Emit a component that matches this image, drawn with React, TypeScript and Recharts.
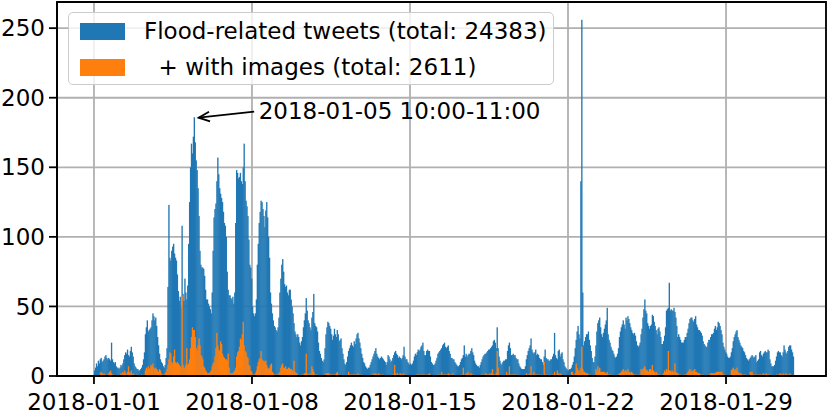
import {
  BarChart,
  Bar,
  XAxis,
  YAxis,
  CartesianGrid,
  ReferenceArea,
  ReferenceDot,
} from "recharts";

const FONT = '"DejaVu Sans", Verdana, sans-serif';
const FONT_SIZE = 23;

// x axis runs in hours since 2018-01-01 00:00
const tickHours = [0, 168, 336, 504, 672];
const tickLabels = ["2018-01-01", "2018-01-08", "2018-01-15", "2018-01-22", "2018-01-29"];
const yTicks = [0, 50, 100, 150, 200, 250];

// flood-related tweets per hour, one row per day
const tweetsJan1to7 = [
  [4, 6, 9, 7, 11, 9, 12, 13, 10, 11, 12, 14, 15, 13, 12, 13, 12, 11, 24, 12, 10, 9, 10, 7],
  [6, 6, 5, 6, 8, 7, 9, 12, 15, 17, 16, 19, 15, 14, 18, 21, 17, 14, 9, 7, 6, 5, 5, 4],
  [4, 5, 6, 8, 12, 17, 30, 35, 40, 32, 33, 34, 35, 40, 45, 43, 40, 42, 36, 28, 22, 16, 12, 10],
  [9, 7, 6, 8, 13, 20, 64, 123, 85, 83, 90, 93, 95, 88, 85, 83, 73, 61, 54, 57, 49, 108, 59, 54],
  [70, 60, 55, 65, 95, 125, 150, 167, 160, 172, 186, 168, 155, 148, 135, 115, 90, 80, 78, 78, 77, 72, 62, 55],
  [55, 52, 50, 48, 45, 60, 90, 114, 120, 124, 140, 157, 145, 135, 131, 128, 125, 118, 110, 108, 100, 75, 62, 58],
  [58, 56, 55, 57, 52, 60, 110, 148, 146, 142, 143, 146, 140, 138, 150, 167, 140, 126, 122, 115, 98, 80, 78, 70],
];
const tweetsJan8to14 = [
  [50, 45, 43, 45, 55, 80, 95, 110, 118, 126, 125, 120, 115, 107, 119, 125, 114, 100, 85, 60, 52, 45, 40, 36],
  [35, 33, 32, 35, 42, 60, 70, 80, 84, 75, 66, 64, 65, 60, 58, 62, 62, 55, 50, 45, 38, 32, 30, 28],
  [30, 28, 24, 22, 25, 28, 35, 40, 45, 56, 47, 40, 38, 35, 33, 42, 46, 59, 38, 36, 35, 32, 24, 18],
  [16, 13, 11, 10, 12, 20, 30, 35, 39, 38, 36, 34, 30, 26, 29, 34, 30, 28, 33, 30, 25, 26, 27, 20],
  [16, 12, 9, 8, 10, 14, 18, 20, 22, 24, 22, 21, 25, 23, 27, 30, 31, 27, 24, 20, 16, 13, 10, 9],
  [7, 6, 5, 6, 6, 8, 10, 12, 14, 16, 18, 20, 16, 14, 13, 12, 13, 14, 13, 12, 11, 10, 8, 10],
  [15, 14, 12, 10, 11, 13, 15, 17, 18, 16, 15, 13, 14, 13, 12, 13, 15, 21, 14, 12, 12, 10, 9, 8],
];
const tweetsJan15to21 = [
  [9, 8, 9, 11, 14, 16, 15, 17, 19, 18, 19, 21, 22, 24, 18, 15, 15, 18, 19, 18, 18, 14, 10, 9],
  [8, 8, 9, 11, 13, 16, 17, 18, 19, 20, 22, 23, 24, 21, 20, 21, 22, 18, 16, 13, 13, 12, 12, 10],
  [9, 8, 7, 7, 8, 10, 12, 13, 15, 22, 14, 16, 14, 15, 16, 16, 18, 20, 17, 15, 11, 9, 8, 7],
  [7, 6, 8, 10, 12, 14, 15, 16, 16, 17, 18, 19, 19, 20, 21, 22, 25, 26, 24, 20, 35, 20, 14, 11],
  [9, 8, 10, 11, 11, 12, 12, 18, 22, 24, 20, 15, 15, 16, 15, 15, 13, 12, 12, 9, 7, 6, 5, 5],
  [5, 5, 7, 12, 15, 18, 20, 22, 27, 19, 17, 16, 17, 19, 15, 16, 15, 13, 12, 12, 10, 8, 14, 19],
  [13, 12, 12, 11, 11, 12, 12, 14, 16, 31, 15, 13, 12, 18, 19, 14, 16, 17, 12, 10, 7, 6, 5, 4],
];
const tweetsJan22to28 = [
  [4, 5, 5, 6, 8, 10, 14, 20, 26, 32, 36, 30, 27, 140, 256, 60, 22, 25, 28, 30, 30, 32, 26, 22],
  [18, 13, 10, 10, 14, 22, 32, 38, 40, 42, 35, 30, 28, 31, 34, 37, 40, 49, 30, 26, 24, 21, 19, 18],
  [16, 14, 13, 14, 16, 20, 28, 32, 35, 37, 40, 37, 34, 42, 40, 43, 41, 38, 35, 33, 31, 30, 31, 29],
  [25, 22, 21, 22, 24, 30, 34, 42, 48, 55, 47, 45, 38, 36, 34, 36, 37, 44, 43, 39, 36, 33, 30, 34],
  [35, 32, 28, 23, 23, 25, 29, 35, 47, 48, 49, 67, 47, 48, 47, 47, 49, 46, 42, 36, 28, 30, 28, 26],
  [24, 24, 24, 26, 28, 28, 31, 34, 38, 41, 42, 42, 40, 39, 41, 43, 37, 35, 33, 33, 32, 31, 29, 25],
  [23, 22, 21, 21, 24, 26, 26, 28, 30, 30, 31, 34, 36, 33, 35, 39, 38, 36, 33, 30, 24, 21, 19, 17],
];
const tweetsJan29to31 = [
  [16, 14, 13, 13, 14, 17, 20, 25, 28, 30, 32, 33, 28, 26, 24, 22, 21, 20, 18, 17, 15, 13, 12, 11],
  [12, 13, 14, 15, 14, 13, 14, 15, 10, 11, 12, 17, 18, 15, 14, 16, 17, 18, 17, 17, 19, 18, 12, 9],
  [7, 7, 7, 8, 11, 14, 17, 18, 17, 17, 15, 14, 17, 22, 19, 17, 16, 18, 21, 22, 22, 19, 17, 14],
];

// of which with images
const imagesJan1to7 = [
  [0, 0, 0, 0, 0, 0, 2, 3, 2, 1, 2, 1, 1, 0, 1, 2, 3, 4, 2, 1, 0, 1, 0, 0],
  [0, 0, 0, 0, 2, 1, 3, 2, 4, 2, 1, 3, 7, 3, 2, 4, 1, 2, 1, 0, 0, 1, 0, 0],
  [0, 0, 1, 0, 1, 1, 4, 6, 5, 7, 5, 6, 8, 7, 9, 6, 5, 6, 5, 4, 3, 5, 4, 2],
  [1, 1, 1, 2, 3, 5, 8, 12, 17, 16, 10, 9, 14, 19, 10, 9, 10, 9, 8, 7, 6, 58, 8, 6],
  [6, 8, 20, 8, 9, 12, 20, 28, 35, 33, 33, 28, 20, 18, 22, 27, 22, 15, 14, 12, 7, 6, 4, 3],
  [2, 2, 2, 3, 4, 7, 9, 10, 14, 20, 31, 22, 19, 18, 25, 23, 16, 14, 13, 12, 12, 11, 16, 6],
  [2, 2, 2, 2, 3, 4, 6, 14, 17, 18, 21, 27, 26, 30, 39, 22, 18, 17, 14, 13, 8, 7, 4, 3],
];
const imagesJan8to14 = [
  [1, 1, 1, 2, 4, 7, 10, 12, 13, 18, 12, 11, 11, 10, 11, 8, 6, 5, 6, 8, 9, 3, 2, 1],
  [1, 1, 1, 1, 2, 3, 6, 8, 9, 6, 6, 7, 5, 5, 6, 6, 5, 5, 4, 4, 11, 3, 2, 2],
  [1, 0, 0, 0, 1, 1, 1, 2, 2, 16, 2, 1, 1, 2, 1, 7, 5, 3, 1, 1, 1, 1, 0, 0],
  [0, 0, 0, 0, 1, 1, 2, 2, 2, 2, 1, 1, 1, 1, 1, 1, 1, 2, 3, 1, 1, 1, 0, 0],
  [0, 0, 0, 0, 0, 1, 3, 1, 1, 1, 1, 1, 1, 1, 1, 1, 2, 1, 1, 0, 1, 0, 0, 0],
  [0, 0, 0, 0, 0, 0, 1, 1, 1, 2, 1, 2, 1, 1, 2, 1, 1, 0, 1, 1, 0, 0, 0, 0],
  [0, 0, 0, 0, 0, 1, 1, 8, 2, 1, 2, 1, 1, 2, 1, 1, 2, 1, 1, 1, 0, 0, 0, 0],
];
const imagesJan15to21 = [
  [0, 0, 0, 0, 0, 0, 1, 1, 1, 1, 1, 0, 1, 1, 1, 1, 0, 1, 1, 1, 2, 1, 0, 0],
  [0, 0, 0, 0, 0, 1, 1, 1, 1, 3, 1, 1, 1, 1, 1, 1, 2, 1, 1, 1, 1, 2, 0, 0],
  [0, 0, 0, 0, 0, 0, 1, 1, 6, 1, 1, 2, 1, 3, 1, 1, 2, 1, 1, 1, 0, 0, 0, 0],
  [0, 0, 0, 1, 1, 1, 1, 1, 2, 1, 1, 1, 2, 1, 2, 5, 1, 1, 1, 2, 18, 6, 1, 0],
  [0, 0, 0, 0, 0, 1, 3, 1, 1, 7, 1, 1, 1, 1, 1, 1, 1, 0, 1, 0, 0, 0, 0, 0],
  [0, 0, 0, 2, 1, 1, 1, 2, 7, 1, 1, 3, 1, 1, 1, 1, 1, 1, 0, 1, 0, 0, 10, 1],
  [1, 1, 0, 0, 1, 0, 1, 1, 1, 3, 1, 1, 4, 2, 1, 2, 1, 1, 0, 0, 0, 0, 0, 0],
];
const imagesJan22to28 = [
  [0, 0, 0, 3, 3, 1, 1, 2, 9, 6, 4, 4, 2, 6, 21, 5, 3, 3, 2, 2, 2, 1, 1, 1],
  [0, 0, 0, 0, 1, 5, 3, 7, 4, 6, 3, 3, 3, 3, 3, 2, 2, 3, 1, 1, 1, 1, 0, 0],
  [0, 0, 0, 0, 1, 1, 2, 2, 3, 4, 5, 3, 4, 4, 3, 5, 3, 3, 2, 3, 2, 1, 1, 1],
  [1, 0, 0, 1, 1, 5, 4, 5, 6, 7, 5, 4, 4, 3, 5, 5, 4, 8, 4, 3, 2, 3, 2, 1],
  [1, 1, 0, 0, 1, 2, 4, 3, 5, 4, 18, 4, 4, 3, 4, 3, 3, 9, 3, 2, 2, 1, 1, 1],
  [0, 0, 0, 1, 1, 1, 2, 3, 4, 5, 3, 4, 3, 4, 5, 3, 3, 2, 2, 2, 1, 1, 1, 1],
  [0, 0, 0, 0, 0, 1, 1, 2, 2, 2, 2, 2, 2, 3, 3, 3, 3, 3, 3, 3, 1, 1, 1, 0],
];
const imagesJan29to31 = [
  [0, 0, 0, 0, 1, 4, 5, 6, 4, 5, 4, 6, 3, 2, 2, 2, 1, 1, 1, 1, 1, 0, 0, 0],
  [0, 3, 3, 3, 1, 1, 1, 1, 1, 1, 1, 1, 1, 1, 1, 2, 1, 1, 2, 1, 1, 1, 1, 0],
  [0, 0, 0, 0, 0, 1, 1, 1, 1, 2, 1, 1, 2, 1, 1, 2, 1, 1, 1, 2, 1, 1, 0, 0],
];

const legendItems = [
  { label: "Flood-related tweets (total: 24383)", color: "#1f77b4" },
  { label: "  + with images (total: 2611)", color: "#ff7f0e" },
];

const annotation = { hour: 4 * 24 + 10, label: "2018-01-05 10:00-11:00" };

const tweets = [
  ...tweetsJan1to7,
  ...tweetsJan8to14,
  ...tweetsJan15to21,
  ...tweetsJan22to28,
  ...tweetsJan29to31,
].flat();
const images = [
  ...imagesJan1to7,
  ...imagesJan8to14,
  ...imagesJan15to21,
  ...imagesJan22to28,
  ...imagesJan29to31,
].flat();

const data = tweets.map((n, i) => ({ hour: i + 0.5, tweets: n, images: images[i] }));

const X_DOMAIN: [number, number] = [-39.3, 778.3];
const Y_DOMAIN: [number, number] = [0, 268.8];
const LINE_W = 1.8;

// hour bins are under a pixel wide, pad them a touch so neighbours don't leave seams
function SolidBar(props: any) {
  const { x, y, width, height, fill } = props;
  if (!height || height <= 0) return null;
  return <rect x={x} y={y} width={width + 0.4} height={height} fill={fill} />;
}

function Callout({ cx, cy, label }: { cx?: number; cy?: number; label: string }) {
  if (cx == null || cy == null) return null;
  const tip = { x: cx + 4.5, y: cy + 0.5 };
  const tail = { x: cx + 60, y: cy - 5.5 };
  const ang = Math.atan2(tail.y - tip.y, tail.x - tip.x);
  const head = (da: number) => ({
    x: tip.x + 12 * Math.cos(ang + da),
    y: tip.y + 12 * Math.sin(ang + da),
  });
  const h1 = head(0.42);
  const h2 = head(-0.42);
  return (
    <g>
      <line x1={tail.x} y1={tail.y} x2={tip.x} y2={tip.y} stroke="#000" strokeWidth={LINE_W} />
      <polyline
        points={`${h1.x},${h1.y} ${tip.x},${tip.y} ${h2.x},${h2.y}`}
        fill="none"
        stroke="#000"
        strokeWidth={LINE_W}
      />
      <text x={cx + 64.5} y={cy + 1.5} fontSize={FONT_SIZE} fontFamily={FONT} fill="#000">
        {label}
      </text>
    </g>
  );
}

export default function App() {
  const axisStroke = { stroke: "#000", strokeWidth: LINE_W };
  const tickFont = { fill: "#000", fontSize: FONT_SIZE, fontFamily: FONT };
  return (
    <div style={{ position: "absolute", left: 0, top: 0, width: 829, height: 410, background: "#fff" }}>
      <BarChart
        width={829}
        height={410}
        data={data}
        margin={{ top: 2, right: 3, bottom: 0, left: 0 }}
        barCategoryGap={0}
        barGap={0}
      >
        <XAxis
          xAxisId="tweets"
          dataKey="hour"
          type="number"
          domain={X_DOMAIN}
          allowDataOverflow
          ticks={tickHours}
          tickFormatter={(v) => tickLabels[tickHours.indexOf(v)]}
          tick={tickFont}
          tickLine={axisStroke}
          axisLine={axisStroke}
          tickSize={8}
          tickMargin={10}
          height={34}
          interval={0}
        />
        <XAxis
          xAxisId="images"
          dataKey="hour"
          type="number"
          domain={X_DOMAIN}
          allowDataOverflow
          hide
          height={0}
        />
        <YAxis
          type="number"
          domain={Y_DOMAIN}
          allowDataOverflow
          ticks={yTicks}
          tick={tickFont}
          tickLine={axisStroke}
          axisLine={axisStroke}
          tickSize={8}
          tickMargin={4}
          width={57}
          interval={0}
        />
        <Bar xAxisId="tweets" dataKey="tweets" fill="#1f77b4" shape={SolidBar} isAnimationActive={false} />
        <Bar xAxisId="images" dataKey="images" fill="#ff7f0e" shape={SolidBar} isAnimationActive={false} />
        <CartesianGrid xAxisId="tweets" stroke="#b0b0b0" strokeWidth={LINE_W} />
        <ReferenceArea
          xAxisId="tweets"
          x1={X_DOMAIN[0]}
          x2={X_DOMAIN[1]}
          y1={Y_DOMAIN[0]}
          y2={Y_DOMAIN[1]}
          fill="none"
          stroke="#000"
          strokeWidth={LINE_W}
        />
        <ReferenceDot
          xAxisId="tweets"
          x={annotation.hour + 0.5}
          y={tweets[annotation.hour]}
          r={0}
          shape={(p: any) => <Callout cx={p.cx} cy={p.cy} label={annotation.label} />}
        />
      </BarChart>
      <div
        style={{
          position: "absolute",
          left: 68,
          top: 12,
          width: 486,
          height: 73,
          boxSizing: "border-box",
          border: "1.5px solid #cccccc",
          borderRadius: 5,
          background: "rgba(255,255,255,0.8)",
          fontFamily: FONT,
          fontSize: FONT_SIZE,
        }}
      >
        {legendItems.map((item, i) => (
          <div key={item.label}>
            <div
              style={{
                position: "absolute",
                left: 11,
                top: 9.5 + i * 36,
                width: 45,
                height: 17,
                background: item.color,
              }}
            />
            <div
              style={{
                position: "absolute",
                left: 75,
                top: 18 + i * 36,
                transform: "translateY(-50%)",
                whiteSpace: "pre",
                lineHeight: 1,
                color: "#000",
              }}
            >
              {item.label}
            </div>
          </div>
        ))}
      </div>
    </div>
  );
}
